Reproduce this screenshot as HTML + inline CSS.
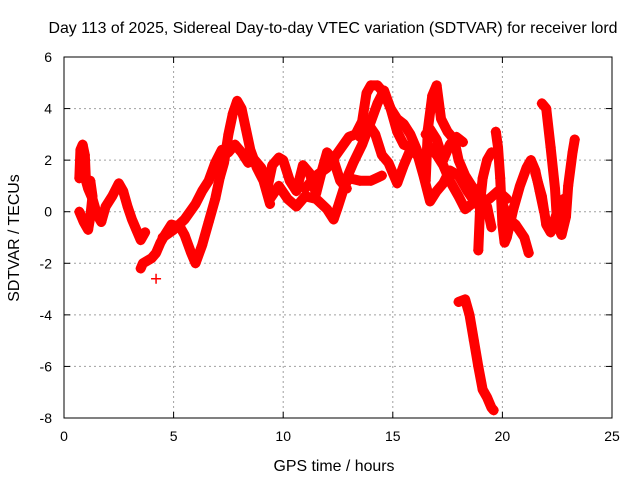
<!DOCTYPE html>
<html><head><meta charset="utf-8"><style>
body{margin:0;background:#fff}
svg{display:block;font-family:"Liberation Sans",sans-serif}
</style></head><body>
<svg id="chart" width="640" height="480">
<text x="333" y="33" font-size="15.9" text-anchor="middle">Day 113 of 2025, Sidereal Day-to-day VTEC variation (SDTVAR) for receiver lord</text>
<text x="334" y="471" font-size="15.9" text-anchor="middle">GPS time / hours</text>
<text transform="translate(19,238) rotate(-90)" font-size="15.9" text-anchor="middle">SDTVAR / TECUs</text>
<g id="grid"></g><g id="ticks"></g><g id="series"></g>
<rect x="64" y="57" width="548" height="361" fill="none" stroke="#000"/>
</svg>
<script>
const xTicks=[0,5,10,15,20,25];
const yTicks=[-8,-6,-4,-2,0,2,4,6];
const trackA=[[0.7,1.3],[0.75,2.4],[0.85,2.6],[0.95,2.2],[1.0,1.2],[1.1,0.9],[1.3,0.5],[1.5,-0.1],[1.7,-0.4],[1.9,0.2],[2.2,0.6],[2.5,1.1],[2.7,0.8],[2.9,0.2],[3.1,-0.3],[3.3,-0.7],[3.5,-1.1],[3.7,-0.8]];
const trackA2=[[0.7,0.0],[0.9,-0.4],[1.1,-0.7],[1.2,-0.2],[1.3,0.6],[1.2,1.2]];
const trackB=[[3.5,-2.2],[3.6,-2.0],[4.0,-1.8],[4.2,-1.6],[4.4,-1.2],[4.6,-0.9],[4.9,-0.5],[5.3,-0.6],[5.5,-0.9],[5.8,-1.6],[6.0,-2.0],[6.3,-1.3],[6.6,-0.4],[6.9,0.5],[7.1,1.3],[7.3,1.9],[7.5,3.0],[7.7,3.8],[7.9,4.3],[8.1,4.0],[8.3,3.2],[8.5,2.4],[8.8,1.7],[9.1,1.2],[9.4,0.3]];
const trackC=[[4.5,-1.0],[5.0,-0.7],[5.5,-0.3],[6.0,0.3],[6.3,0.8],[6.6,1.2],[6.9,1.9],[7.2,2.4],[7.5,2.3],[7.8,2.6],[8.1,2.3],[8.4,1.9],[8.7,2.0],[9.0,1.7],[9.3,1.0],[9.5,1.8],[9.8,2.1],[10.0,2.0],[10.3,1.2],[10.6,0.8],[10.9,1.8],[11.2,1.5],[11.5,0.7],[11.8,1.7],[12.0,2.3],[12.3,2.0],[12.6,1.2],[12.9,0.9]];
const trackD=[[9.4,0.5],[9.8,1.0],[10.2,0.5],[10.6,0.2],[11.0,0.6],[11.5,0.5],[12.0,0.1],[12.3,-0.3],[12.5,0.2],[12.8,1.0],[13.0,1.3],[13.5,1.2],[14.0,1.2],[14.5,1.4]];
const trackE=[[11.0,0.9],[11.5,1.4],[12.0,1.7],[12.5,2.3],[13.0,2.9],[13.3,3.0],[13.6,3.5],[13.8,4.6],[14.0,4.9],[14.3,4.9],[14.6,4.6],[14.9,4.0],[15.2,3.1],[15.5,2.6],[15.8,2.5],[16.1,2.2],[16.4,2.2],[16.7,2.5],[17.0,2.2],[17.3,1.8],[17.6,1.2],[18.0,0.6],[18.3,0.1],[18.6,0.3],[19.0,0.4],[19.4,0.5],[19.8,0.8],[20.2,0.5]];
const trackF=[[12.8,1.1],[13.2,1.9],[13.6,2.6],[14.0,3.5],[14.3,4.2],[14.6,4.7],[14.9,4.0],[15.2,3.6],[15.5,3.4],[15.8,3.0],[16.1,2.4],[16.3,1.8],[16.5,1.2],[16.6,3.2],[16.8,4.5],[17.0,4.9],[17.2,3.6],[17.5,3.1],[17.8,2.8],[18.0,2.0],[18.3,1.4],[18.6,1.0],[19.0,0.6],[19.3,0.2],[19.5,-0.6]];
const trackG=[[13.5,2.9],[13.8,3.5],[14.2,3.0],[14.5,2.2],[14.8,1.9],[15.0,1.5],[15.2,1.1],[15.5,1.8],[15.8,2.4],[16.1,2.3],[16.4,1.4],[16.7,0.4],[17.0,0.8],[17.3,1.1],[17.6,1.6],[18.0,1.4],[18.4,0.8],[18.8,0.3]];
const trackH=[[16.5,3.0],[16.7,3.2],[17.0,2.8],[17.3,2.0],[17.6,2.6],[17.9,2.9],[18.2,2.7]];
const trackI=[[18.0,-3.5],[18.3,-3.4],[18.5,-4.0],[18.7,-5.0],[18.9,-6.0],[19.1,-6.9],[19.3,-7.2],[19.5,-7.6],[19.6,-7.7]];
const trackJ=[[18.9,-1.5],[19.0,0.5],[19.1,1.3],[19.3,2.0],[19.5,2.3]];
const trackK=[[19.7,3.1],[19.8,2.5],[19.9,1.3],[20.0,-0.5],[20.1,-1.2],[20.2,-1.0],[20.5,0.1],[20.8,1.0],[21.1,1.7],[21.3,2.0],[21.5,1.6],[21.7,0.8],[21.9,0.0]];
const trackL=[[20.0,0.3],[20.3,-0.3],[20.6,-0.5],[21.0,-1.0],[21.2,-1.6]];
const trackM=[[21.8,4.2],[22.0,4.0],[22.2,2.5],[22.4,0.9],[22.5,-0.5],[22.7,-0.9],[22.9,-0.2],[23.0,1.0],[23.2,2.3],[23.3,2.8]];
const trackN=[[21.5,1.5],[21.8,0.6],[22.0,-0.5],[22.2,-0.8],[22.5,0.0],[22.8,0.5]];
const tracks=[trackA,trackA2,trackB,trackC,trackD,trackE,trackF,trackG,trackH,trackI,trackJ,trackK,trackL,trackM,trackN];
const singles=[[4.2,-2.6]];

const NS="http://www.w3.org/2000/svg";
const X0=64,X1=612,Y0=418,Y1=57;
const xs=v=>X0+(v-0)/(25-0)*(X1-X0);
const ys=v=>Y0-(v-(-8))/(6-(-8))*(Y0-Y1);
function mk(t,a,p){const e=document.createElementNS(NS,t);for(const k in a)e.setAttribute(k,a[k]);p.appendChild(e);return e;}
const grid=document.getElementById('grid'),ticks=document.getElementById('ticks'),ser=document.getElementById('series');
xTicks.forEach(t=>{const x=xs(t);
 if(t>0&&t<25){const g=mk('line',{x1:x,x2:x,y1:Y0,y2:Y1,stroke:'#a0a0a0','stroke-dasharray':'2,3'},grid);
 
 }
 mk('line',{x1:x,x2:x,y1:Y0,y2:Y0-6,stroke:'#000'},ticks);
 mk('line',{x1:x,x2:x,y1:Y1,y2:Y1+6,stroke:'#000'},ticks);
 const l=mk('text',{x:x,y:Y0+23,'font-size':14,'text-anchor':'middle'},ticks);l.textContent=t;
 
 });
yTicks.forEach(t=>{const y=ys(t);
 if(t>-8&&t<6){const g=mk('line',{x1:X0,x2:X1,y1:y,y2:y,stroke:'#a0a0a0','stroke-dasharray':'2,3'},grid);
 
 }
 mk('line',{x1:X0,x2:X0+6,y1:y,y2:y,stroke:'#000'},ticks);
 mk('line',{x1:X1,x2:X1-6,y1:y,y2:y,stroke:'#000'},ticks);
 const l=mk('text',{x:X0-12,y:y+5,'font-size':14,'text-anchor':'end'},ticks);l.textContent=t;
 
 });
function plus(x,y,g){mk('path',{d:`M${x-5},${y}h10M${x},${y-5}v10`,stroke:'#f00','stroke-width':1.5},g);}
tracks.forEach((tr,i)=>{
 const g=mk('g',{},ser);
 
 
 mk('polyline',{points:tr.map(p=>xs(p[0])+','+ys(p[1])).join(' '),fill:'none',stroke:'#f00','stroke-width':10,'stroke-linejoin':'round','stroke-linecap':'round'},g);
 tr.forEach(p=>plus(xs(p[0]),ys(p[1]),g));
});
singles.forEach(p=>{const g=mk('g',{},ser);
 
 
 plus(xs(p[0]),ys(p[1]),g);});
</script>
</body></html>
